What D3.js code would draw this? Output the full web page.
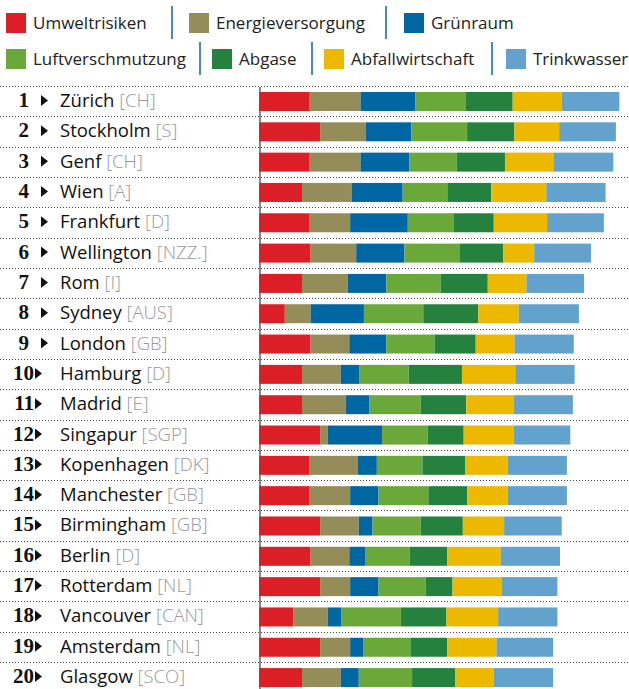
<!DOCTYPE html>
<html>
<head>
<meta charset="utf-8">
<script src="https://d3js.org/d3.v7.min.js"></script>
<style>
  body { margin: 0; background: #fff; }
  text { font-family: "Open Sans", sans-serif; }
</style>
</head>
<body>
<script>

// data
var ranks = d3.range(1, 21);
var cities = ["Zürich", "Stockholm", "Genf", "Wien", "Frankfurt", "Wellington", "Rom", "Sydney", "London", "Hamburg",
  "Madrid", "Singapur", "Kopenhagen", "Manchester", "Birmingham", "Berlin", "Rotterdam", "Vancouver", "Amsterdam", "Glasgow"];
var countries = ["CH", "S", "CH", "A", "D", "NZZ.", "I", "AUS", "GB", "D", "E", "SGP", "DK", "GB", "GB", "D", "NL", "CAN", "NL", "SCO"];
var categories = ["Umweltrisiken", "Energieversorgung", "Grünraum", "Luftverschmutzung", "Abgase", "Abfallwirtschaft", "Trinkwasser"];
var colors = ["#dc1f26", "#958d59", "#0067a2", "#6aa83a", "#25823e", "#ecb800", "#63a2cc"];

var umweltrisiken = [5.9, 7.1, 5.9, 5.0, 5.9, 6.0, 5.0, 3.0, 6.0, 5.0, 5.0, 7.1, 5.9, 5.9, 7.1, 6.0, 7.1, 4.0, 7.1, 5.0];
var energieversorgung = [5.9, 5.3, 5.9, 5.8, 4.7, 5.3, 5.3, 3.0, 4.5, 4.5, 5.1, 0.9, 5.6, 4.7, 4.5, 4.5, 3.5, 4.0, 3.5, 4.5];
var gruenraum = [6.4, 5.3, 5.7, 5.9, 6.7, 5.6, 4.5, 6.2, 4.3, 2.2, 2.7, 6.3, 2.2, 3.3, 1.6, 1.9, 3.3, 1.6, 1.5, 2.1];
var luftverschmutzung = [5.8, 6.5, 5.5, 5.2, 5.3, 6.4, 6.3, 6.9, 5.6, 5.7, 6.0, 5.3, 5.3, 5.8, 5.6, 5.1, 5.5, 6.9, 5.5, 6.2];
var abgase = [5.5, 5.5, 5.6, 5.1, 4.7, 5.1, 5.5, 6.4, 4.8, 6.2, 5.3, 4.2, 5.0, 4.5, 4.9, 4.4, 3.1, 5.3, 4.3, 5.0];
var abfallwirtschaft = [5.7, 5.2, 5.7, 6.4, 6.2, 3.6, 4.5, 4.7, 4.5, 6.2, 5.5, 5.8, 4.9, 4.7, 4.8, 6.2, 5.7, 6.0, 5.7, 4.5];
var trinkwasser = [6.7, 6.6, 6.9, 6.9, 6.6, 6.6, 6.7, 7.0, 6.9, 6.9, 6.9, 6.6, 6.9, 6.9, 6.7, 6.9, 6.5, 6.9, 6.6, 6.9];

var series_values = [umweltrisiken, energieversorgung, gruenraum, luftverschmutzung, abgase, abfallwirtschaft, trinkwasser];

// table for d3.stack
var table = cities.map(function (c, i) {
  var row = { city: c };
  categories.forEach(function (k, j) { row[k] = series_values[j][i]; });
  return row;
});

var width = 629, height = 689;
var svg = d3.select("body").append("svg")
  .attr("width", width)
  .attr("height", height);

var x = d3.scaleLinear().domain([0, 42]).range([259, 259 + 42 * 8.6]);
var y = d3.scaleBand().domain(cities).range([86, 86 + 20 * 30.32]);

// legend
var legend_row1 = [{ k: 0, x: 6 }, { k: 1, x: 189 }, { k: 2, x: 404 }];
var legend_row2 = [{ k: 3, x: 6 }, { k: 4, x: 212 }, { k: 5, x: 324 }, { k: 6, x: 506 }];
var seps1 = [172, 386];
var seps2 = [200, 312, 492];

function draw_legend(items, seps, cy, y0, y1) {
  var g = svg.append("g");
  items.forEach(function (d) {
    g.append("rect").attr("x", d.x).attr("y", cy - 10).attr("width", 20).attr("height", 20)
      .attr("fill", colors[d.k]);
    g.append("text").attr("x", d.x + 27).attr("y", cy + 6)
      .attr("font-size", 17).attr("fill", "#222").text(categories[d.k]);
  });
  seps.forEach(function (sx) {
    g.append("line").attr("x1", sx).attr("x2", sx).attr("y1", y0).attr("y2", y1)
      .attr("stroke", "#4a89ba").attr("stroke-width", 2);
  });
}
draw_legend(legend_row1, seps1, 23, 6, 39);
draw_legend(legend_row2, seps2, 59, 42, 75);

// separators
svg.append("g").selectAll("line")
  .data(cities)
  .enter().append("line")
  .attr("x1", 0).attr("x2", width)
  .attr("y1", function (d) { return Math.round(y(d)) + 0.5; })
  .attr("y2", function (d) { return Math.round(y(d)) + 0.5; })
  .attr("stroke", "#444").attr("stroke-width", 1)
  .attr("stroke-dasharray", "1,2");

// axis line
svg.append("line")
  .attr("x1", 260).attr("x2", 260).attr("y1", 87).attr("y2", height)
  .attr("stroke", "#888").attr("stroke-width", 2);

// bars
var stacked = d3.stack().keys(categories)(table);
svg.append("g").selectAll("g")
  .data(stacked)
  .enter().append("g")
  .attr("fill", function (d, i) { return colors[i]; })
  .selectAll("rect")
  .data(function (d) { return d; })
  .enter().append("rect")
  .attr("x", function (d) { return x(d[0]); })
  .attr("width", function (d) { return x(d[1]) - x(d[0]); })
  .attr("y", function (d) { return y(d.data.city) + 6; })
  .attr("height", 19);

// row labels
var labels = svg.append("g").selectAll("g")
  .data(cities)
  .enter().append("g")
  .attr("transform", function (d) { return "translate(0," + (y(d) + 21) + ")"; });

labels.append("text")
  .attr("x", function (d, i) { return ranks[i] < 10 ? 29 : 34; })
  .attr("text-anchor", "end")
  .style("font-family", "'Liberation Serif', serif")
  .attr("font-weight", "bold")
  .attr("font-size", 21)
  .attr("fill", "#111")
  .text(function (d, i) { return ranks[i]; });

labels.append("path")
  .attr("d", function (d, i) {
    var tx = ranks[i] < 10 ? 41 : 35;
    return "M" + tx + ",-12L" + (tx + 7) + ",-6.5L" + tx + ",-1Z";
  })
  .attr("fill", "#111");

var city_text = labels.append("text")
  .attr("x", 60)
  .attr("font-size", 18.5)
  .attr("fill", "#111");
city_text.append("tspan").text(function (d) { return d + " "; });
city_text.append("tspan")
  .attr("fill", "#999")
  .attr("font-weight", 300)
  .text(function (d, i) { return "[" + countries[i] + "]"; });

</script>
</body>
</html>
